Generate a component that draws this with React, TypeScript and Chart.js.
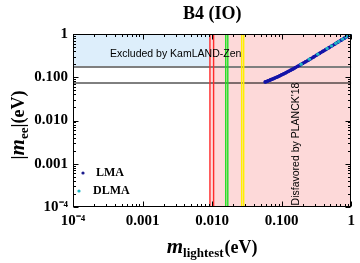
import React, { useEffect, useRef } from "react";
import { Chart, registerables } from "chart.js";
Chart.register(...registerables);

const TITLE = "B4 (IO)";
const X_TICKS = [1e-4, 1e-3, 1e-2, 1e-1, 1];
const X_TICK_LABELS = ["10⁻⁴", "0.001", "0.010", "0.100", "1"];
const Y_TICKS = [1e-4, 1e-3, 1e-2, 1e-1, 1];
const Y_TICK_LABELS = ["10⁻⁴", "0.001", "0.010", "0.100", "1"];
const MINOR_MULT = [2, 3, 4, 5, 6, 7, 8, 9];

const LMA_X = [0.058, 0.061, 0.064, 0.067, 0.07, 0.074, 0.078, 0.083, 0.088, 0.094, 0.1, 0.107, 0.115, 0.124, 0.134, 0.145, 0.157, 0.17, 0.185, 0.2, 0.22, 0.24, 0.26, 0.29, 0.32, 0.35, 0.39, 0.43, 0.48, 0.53, 0.59, 0.65, 0.72, 0.8, 0.88, 0.95, 1.0];
const LMA_Y = [0.078, 0.08, 0.083, 0.085, 0.088, 0.091, 0.094, 0.099, 0.103, 0.108, 0.114, 0.12, 0.127, 0.136, 0.145, 0.155, 0.167, 0.179, 0.193, 0.208, 0.228, 0.247, 0.267, 0.296, 0.327, 0.357, 0.396, 0.436, 0.485, 0.535, 0.594, 0.654, 0.723, 0.802, 0.882, 0.951, 1.0];
const DLMA_X = [0.19, 0.25, 0.33, 0.45, 0.52, 0.6, 0.66, 0.75, 0.84, 0.92, 0.98];
const DLMA_Y = [0.2, 0.262, 0.342, 0.462, 0.532, 0.612, 0.672, 0.76, 0.85, 0.93, 0.99];

const KAMLAND_LIMIT = 0.172;
const SENS_LINE = 0.0736;
const PLANCK_MIN_X = 0.0093;
const RED_LINES = [0.0093, 0.0105];
const GREEN_LINES = [0.0157, 0.0168];
const YELLOW_LINES = [0.0266, 0.0284];

const XMIN = 1e-4, XMAX = 1, YMIN = 1e-4, YMAX = 1;

const LMA_COLOR = "#1414a8";
const DLMA_COLOR = "#1fb4c2";
const SERIF = '"Liberation Serif", "Times New Roman", serif';
const SANS = '"Liberation Sans", Arial, sans-serif';

function vline(x: number, color: string, w: number) {
  return {
    data: [{ x, y: YMIN }, { x, y: YMAX }],
    showLine: true,
    borderColor: color,
    borderWidth: w,
    pointRadius: 0,
    order: 3,
  };
}
function hline(y: number, color: string, w: number) {
  return {
    data: [{ x: XMIN, y }, { x: XMAX, y }],
    showLine: true,
    borderColor: color,
    borderWidth: w,
    pointRadius: 0,
    order: 4,
  };
}

const overlay = {
  id: "overlay",
  afterDatasetsDraw(chart: any) {
    const { ctx, chartArea: a } = chart;
    ctx.save();
    ctx.fillStyle = "#000";
    ctx.font = `10.5px ${SANS}`;
    ctx.textBaseline = "middle";
    ctx.textAlign = "left";
    ctx.fillText("Excluded by KamLAND-Zen", a.left + 37, 54);
    ctx.save();
    ctx.translate(296, 144);
    ctx.rotate(-Math.PI / 2);
    ctx.textAlign = "center";
    ctx.fillText("Disfavored by PLANCK'18", 0, 0);
    ctx.restore();
    // legend
    ctx.fillStyle = "#1a1a8c";
    ctx.beginPath();
    ctx.arc(83, 173, 1.6, 0, Math.PI * 2);
    ctx.fill();
    ctx.fillStyle = DLMA_COLOR;
    ctx.beginPath();
    ctx.arc(79, 191, 1.6, 0, Math.PI * 2);
    ctx.fill();
    ctx.fillStyle = "#000";
    ctx.font = `bold 12px ${SERIF}`;
    ctx.fillText("LMA", 96, 173);
    ctx.fillText("DLMA", 93, 191);
    ctx.restore();
  },
  afterDraw(chart: any) {
    const { ctx, chartArea: a, scales } = chart;
    const x = scales.x, y = scales.y;
    ctx.save();
    ctx.strokeStyle = "#000";
    ctx.lineWidth = 1;
    const L = Math.round(a.left) + 0.5, R = Math.round(a.right) - 0.5;
    const T = Math.round(a.top) + 0.5, B = Math.round(a.bottom) - 0.5;
    ctx.strokeRect(L, T, R - L, B - T);
    ctx.beginPath();
    const decades = X_TICKS.slice(0, -1);
    const tickList: [number, number][] = [];
    decades.forEach((d) => {
      tickList.push([d, 5]);
      MINOR_MULT.forEach((m) => tickList.push([d * m, 2.5]));
    });
    tickList.push([1, 5]);
    tickList.forEach(([v, len]) => {
      const px = Math.round(x.getPixelForValue(v)) + 0.5;
      ctx.moveTo(px, B); ctx.lineTo(px, B - len);
      ctx.moveTo(px, T); ctx.lineTo(px, T + len);
      const py = Math.round(y.getPixelForValue(v)) + 0.5;
      ctx.moveTo(L, py); ctx.lineTo(L + len, py);
      ctx.moveTo(R, py); ctx.lineTo(R - len, py);
    });
    ctx.stroke();

    // title
    ctx.fillStyle = "#000";
    ctx.textAlign = "center";
    ctx.textBaseline = "alphabetic";
    ctx.font = `bold 18px ${SERIF}`;
    ctx.fillText(TITLE, (a.left + a.right) / 2, 19);

    // x title: m_lightest (eV)
    const parts = [
      { t: "m", f: `italic bold 21px ${SERIF}`, dy: 0 },
      { t: "lightest", f: `bold 13px ${SERIF}`, dy: 4 },
      { t: "(eV)", f: `bold 18px ${SERIF}`, dy: 0 },
    ];
    const widths = parts.map((p) => { ctx.font = p.f; return ctx.measureText(p.t).width; });
    const total = widths.reduce((s, w) => s + w, 0) + 1;
    let cx = (a.left + a.right) / 2 - total / 2;
    ctx.textAlign = "left";
    parts.forEach((p, i) => {
      ctx.font = p.f;
      ctx.fillText(p.t, cx, 253 + p.dy);
      cx += widths[i] + (i === 1 ? 1 : 0);
    });

    // y title: |m_ee|(eV)
    const yparts = [
      { t: "|", f: `bold 18px ${SERIF}`, dy: 0 },
      { t: "m", f: `italic bold 21px ${SERIF}`, dy: 0 },
      { t: "ee", f: `bold 13px ${SERIF}`, dy: 4 },
      { t: "|", f: `bold 18px ${SERIF}`, dy: 0 },
      { t: "(eV)", f: `bold 18px ${SERIF}`, dy: 0 },
    ];
    const yw = yparts.map((p) => { ctx.font = p.f; return ctx.measureText(p.t).width; });
    const ytot = yw.reduce((s, w) => s + w, 0);
    ctx.save();
    ctx.translate(24, 125);
    ctx.rotate(-Math.PI / 2);
    let c2 = -ytot / 2;
    yparts.forEach((p, i) => {
      ctx.font = p.f;
      ctx.fillText(p.t, c2, p.dy);
      c2 += yw[i];
    });
    ctx.restore();
    ctx.restore();
  },
};

export default function App() {
  const ref = useRef<HTMLCanvasElement | null>(null);
  useEffect(() => {
    document.body.style.margin = "0";
    const canvas = ref.current!;
    const chart = new Chart(canvas, {
      type: "scatter",
      data: {
        datasets: [
          {
            label: "DLMA",
            data: DLMA_X.map((v, i) => ({ x: v, y: DLMA_Y[i] })),
            backgroundColor: DLMA_COLOR,
            borderWidth: 0,
            pointBorderWidth: 0,
            pointRadius: 1.7,
            order: 0,
          },
          {
            label: "LMA",
            data: LMA_X.map((v, i) => ({ x: v, y: LMA_Y[i] })),
            showLine: true,
            borderColor: LMA_COLOR,
            backgroundColor: LMA_COLOR,
            borderWidth: 3.2,
            pointBorderWidth: 0,
            pointRadius: 1.8,
            borderCapStyle: "round",
            order: 1,
          },
          ...RED_LINES.map((v) => vline(v, "#ff2a2a", 1.4)),
          ...GREEN_LINES.map((v) => vline(v, "#1ee01e", 1.4)),
          ...YELLOW_LINES.map((v) => vline(v, "#fff000", 1.5)),
          hline(KAMLAND_LIMIT, "#7f7f7f", 2),
          hline(SENS_LINE, "#000000", 1),
          {
            data: [{ x: PLANCK_MIN_X, y: YMAX }, { x: XMAX, y: YMAX }],
            showLine: true,
            borderColor: "rgba(0,0,0,0)",
            borderWidth: 0,
            pointRadius: 0,
            fill: { value: YMIN },
            backgroundColor: "#fdd9d9",
            order: 10,
          },
          {
            data: [{ x: XMIN, y: YMAX }, { x: XMAX, y: YMAX }],
            showLine: true,
            borderColor: "rgba(0,0,0,0)",
            borderWidth: 0,
            pointRadius: 0,
            fill: { value: KAMLAND_LIMIT },
            backgroundColor: "#ddeefb",
            order: 11,
          },
        ] as any,
      },
      options: {
        animation: false,
        responsive: false,
        devicePixelRatio: 1,
        layout: { padding: { top: 34, right: 7, left: 0, bottom: 0 } },
        plugins: { legend: { display: false }, tooltip: { enabled: false } },
        scales: {
          x: {
            type: "logarithmic",
            min: XMIN,
            max: XMAX,
            afterBuildTicks: (s: any) => { s.ticks = X_TICKS.map((v) => ({ value: v })); },
            afterFit: (s: any) => { s.height = 56; },
            ticks: {
              callback: (_v: any, i: number) => X_TICK_LABELS[i],
              font: { family: SERIF, weight: "bold", size: 15 },
              color: "#000",
              padding: 5,
              maxRotation: 0,
              autoSkip: false,
            },
            grid: { display: false, drawTicks: false },
            border: { display: false },
          },
          y: {
            type: "logarithmic",
            min: YMIN,
            max: YMAX,
            afterBuildTicks: (s: any) => { s.ticks = Y_TICKS.map((v) => ({ value: v })); },
            afterFit: (s: any) => { s.width = 73; },
            ticks: {
              callback: (_v: any, i: number) => Y_TICK_LABELS[i],
              font: { family: SERIF, weight: "bold", size: 15 },
              color: "#000",
              padding: 5,
              autoSkip: false,
            },
            grid: { display: false, drawTicks: false },
            border: { display: false },
          },
        },
      } as any,
      plugins: [overlay],
    });
    return () => chart.destroy();
  }, []);
  return (
    <div style={{ width: 360, height: 263 }}>
      <canvas ref={ref} width={360} height={263} style={{ display: "block" }} />
    </div>
  );
}
